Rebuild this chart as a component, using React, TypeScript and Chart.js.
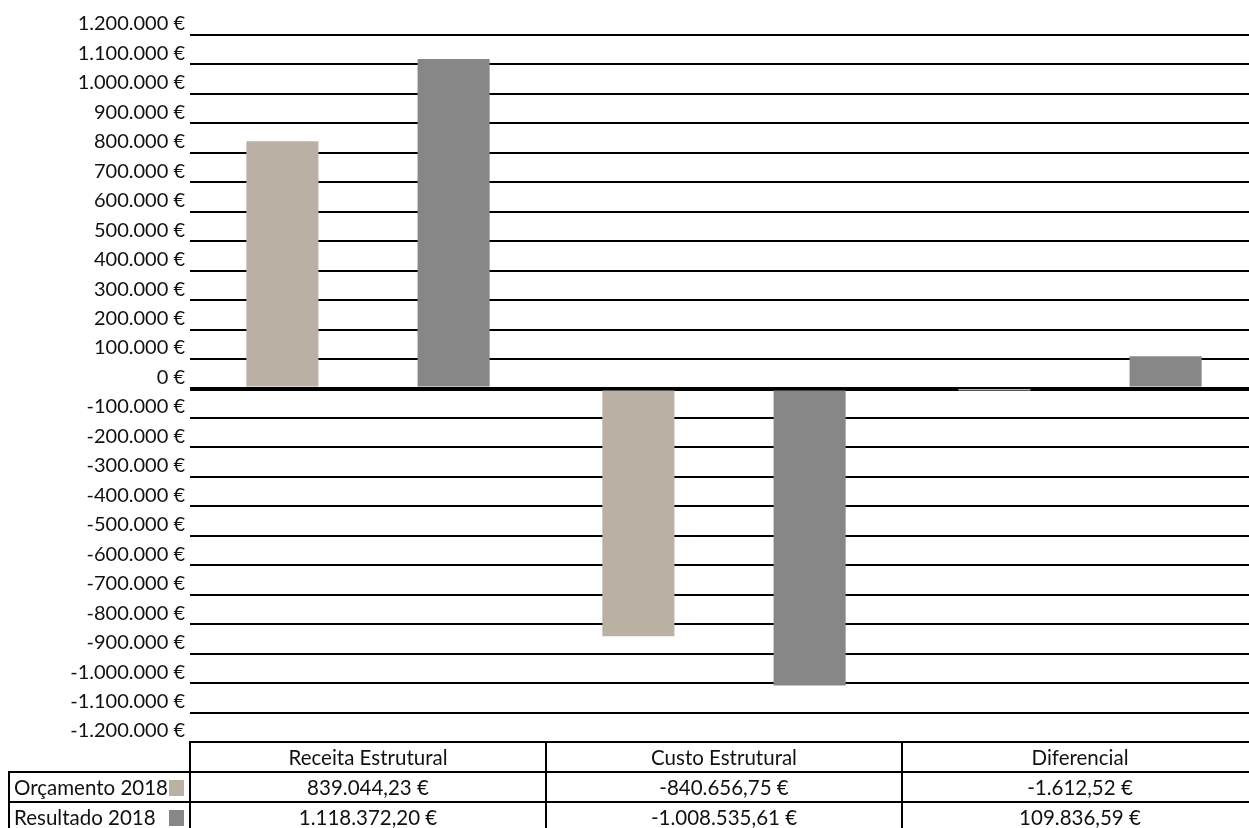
import React, { useEffect, useRef } from "react";
import { Chart, registerables } from "chart.js";

Chart.register(...registerables);

// ---- data ----
const categories = ["Receita Estrutural", "Custo Estrutural", "Diferencial"];
const seriesNames = ["Orçamento 2018", "Resultado 2018"];
const orcamento2018 = [839044.23, -840656.75, -1612.52];
const resultado2018 = [1118372.2, -1008535.61, 109836.59];
const yMin = -1200000;
const yMax = 1200000;
const yStep = 100000;
const seriesColors = ["#BAB0A3", "#878787"];

const FONT = "Lato, 'Open Sans', sans-serif";

function groupThousands(s: string): string {
  return s.replace(/\B(?=(\d{3})+(?!\d))/g, ".");
}
function fmtTick(v: number): string {
  const s = groupThousands(Math.abs(Math.round(v)).toString());
  return (v < 0 ? "-" : "") + s + " €";
}
function fmtMoney(v: number): string {
  const [i, d] = Math.abs(v).toFixed(2).split(".");
  return (v < 0 ? "-" : "") + groupThousands(i) + "," + d + " €";
}

const tablePlugin = {
  id: "dataTable",
  afterDraw(chart: any) {
    const { ctx, chartArea, scales } = chart;
    const x = scales.x;
    const rowH = 30;
    const top = chartArea.bottom;
    const half = (x.getPixelForValue(1) - x.getPixelForValue(0)) / 2;
    const bounds = categories.map((_, i) => x.getPixelForValue(i) - half);
    bounds.push(x.getPixelForValue(categories.length - 1) + half);
    const legendLeft = 9;
    const right = chart.width;
    const rows = [orcamento2018, resultado2018];

    ctx.save();
    ctx.strokeStyle = "#000";
    ctx.lineWidth = 2;
    const line = (x1: number, y1: number, x2: number, y2: number) => {
      ctx.beginPath();
      ctx.moveTo(x1, y1);
      ctx.lineTo(x2, y2);
      ctx.stroke();
    };
    line(bounds[0] - 1, top, right, top);
    for (let r = 1; r <= rows.length + 1; r++) {
      line(legendLeft - 1, top + r * rowH, right, top + r * rowH);
    }
    line(legendLeft, top + rowH, legendLeft, top + (rows.length + 1) * rowH);
    bounds.forEach((b) => line(b, top, b, top + (rows.length + 1) * rowH));

    ctx.fillStyle = "#111";
    ctx.font = "20.5px " + FONT;
    ctx.textBaseline = "middle";
    ctx.textAlign = "center";
    categories.forEach((c, i) => {
      ctx.fillText(c, x.getPixelForValue(i), top + rowH / 2 + 1);
    });
    rows.forEach((vals, r) => {
      const cy = top + (r + 1) * rowH + rowH / 2 + 1;
      ctx.textAlign = "center";
      ctx.fillStyle = "#111";
      vals.forEach((v, i) => {
        ctx.fillText(fmtMoney(v), x.getPixelForValue(i), cy);
      });
      ctx.textAlign = "left";
      ctx.fillText(seriesNames[r], legendLeft + 5, cy);
      ctx.fillStyle = seriesColors[r];
      ctx.fillRect(bounds[0] - 21, cy - 8, 15, 16);
    });
    ctx.restore();
  },
};

export default function App() {
  const ref = useRef<HTMLCanvasElement | null>(null);

  useEffect(() => {
    document.body.style.margin = "0";
    const canvas = ref.current;
    if (!canvas) return;
    const chart = new Chart(canvas, {
      type: "bar",
      data: {
        labels: categories,
        datasets: [
          {
            label: seriesNames[0],
            data: orcamento2018,
            backgroundColor: seriesColors[0],
            borderWidth: 0,
          },
          {
            label: seriesNames[1],
            data: resultado2018,
            backgroundColor: seriesColors[1],
            borderWidth: 0,
          },
        ],
      },
      options: {
        responsive: false,
        animation: false,
        devicePixelRatio: 1,
        layout: { padding: { top: 35, bottom: 86, left: 0, right: 0 } },
        datasets: {
          bar: { categoryPercentage: 0.962, barPercentage: 0.421 },
        },
        plugins: {
          legend: { display: false },
          tooltip: { enabled: false },
        },
        scales: {
          x: { display: false },
          y: {
            min: yMin,
            max: yMax,
            border: { display: false },
            grid: {
              color: "#000",
              lineWidth: (c: any) => (c.tick && c.tick.value === 0 ? 4 : 2),
              drawTicks: false,
            },
            ticks: {
              stepSize: yStep,
              autoSkip: false,
              padding: 5,
              labelOffset: -11,
              color: "#111",
              font: { family: FONT, size: 20 },
              callback: (v: any) => fmtTick(Number(v)),
            },
            afterFit: (scale: any) => {
              scale.width = 190;
            },
          },
        },
      },
      plugins: [tablePlugin],
    });
    return () => chart.destroy();
  }, []);

  return (
    <div style={{ width: 1249, height: 828, overflow: "hidden", position: "relative" }}>
      <canvas ref={ref} width={1258} height={828} style={{ display: "block", width: 1258, height: 828 }} />
    </div>
  );
}
